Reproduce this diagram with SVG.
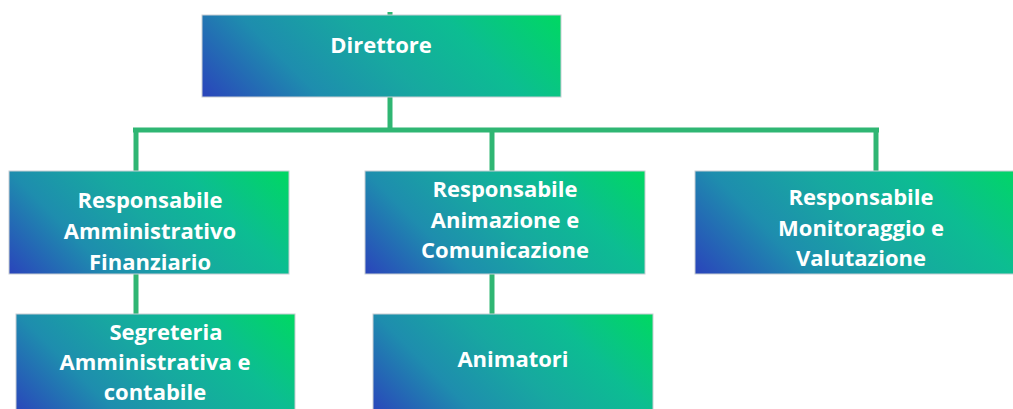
<svg xmlns="http://www.w3.org/2000/svg" width="1013" height="409" viewBox="0 0 1013 409">
  <defs>
    <!-- shared colour ramp: deep blue (bottom-left) to bright green (top-right) -->
    <linearGradient id="boxFill">
      <stop offset="0" stop-color="#2a44bb"/>
      <stop offset="0.27" stop-color="#1e8dae"/>
      <stop offset="0.5" stop-color="#17a8a0"/>
      <stop offset="0.73" stop-color="#0cbd92"/>
      <stop offset="1" stop-color="#00d862"/>
    </linearGradient>
    <!-- per-box 45° gradients -->
    <linearGradient id="fillDir" href="#boxFill" gradientUnits="userSpaceOnUse" x1="202" y1="97" x2="422.5" y2="-123.5"/>
    <linearGradient id="fillAmm" href="#boxFill" gradientUnits="userSpaceOnUse" x1="9" y1="274" x2="200.5" y2="82.5"/>
    <linearGradient id="fillAnim" href="#boxFill" gradientUnits="userSpaceOnUse" x1="365" y1="274" x2="556.5" y2="82.5"/>
    <linearGradient id="fillMon" href="#boxFill" gradientUnits="userSpaceOnUse" x1="695" y1="274" x2="912.5" y2="56.5"/>
    <linearGradient id="fillSeg" href="#boxFill" gradientUnits="userSpaceOnUse" x1="16" y1="414" x2="205.5" y2="224.5"/>
    <linearGradient id="fillAnt" href="#boxFill" gradientUnits="userSpaceOnUse" x1="373" y1="414" x2="562.5" y2="224.5"/>
    <style>
      .box { stroke: #c8ced3; stroke-width: 1; }
      .label { font-family: "Open Sans", "Liberation Sans", sans-serif; font-weight: 700; font-size: 22px; fill: #ffffff; text-anchor: middle; }
      .link { stroke: #2fb673; stroke-width: 5; fill: none; }
    </style>
  </defs>
  <rect width="1013" height="409" fill="#ffffff"/>

  <!-- connectors -->
  <g id="connectors">
    <path class="link" d="M390 12 V15"/>
    <path class="link" d="M390 97 V130"/>
    <path class="link" d="M133 130 H879"/>
    <path class="link" d="M136 130 V171"/>
    <path class="link" d="M492 130 V171"/>
    <path class="link" d="M876 130 V171"/>
    <path class="link" d="M136 274 V314"/>
    <path class="link" d="M492 274 V314"/>
  </g>

  <g id="direttore">
    <rect class="box" x="202" y="15" width="359" height="82" fill="url(#fillDir)"/>
    <text class="label" x="381" y="53">Direttore</text>
  </g>

  <g id="resp-amm-fin">
    <rect class="box" x="9" y="171" width="280" height="103" fill="url(#fillAmm)"/>
    <text class="label" x="150" y="208">Responsabile</text>
    <text class="label" x="150" y="239">Amministrativo</text>
    <text class="label" x="150" y="270">Finanziario</text>
  </g>

  <g id="resp-anim-com">
    <rect class="box" x="365" y="171" width="280" height="103" fill="url(#fillAnim)"/>
    <text class="label" x="505" y="197">Responsabile</text>
    <text class="label" x="505" y="228">Animazione e</text>
    <text class="label" x="505" y="258">Comunicazione</text>
  </g>

  <g id="resp-mon-val">
    <rect class="box" x="695" y="171" width="332" height="103" fill="url(#fillMon)"/>
    <text class="label" x="861" y="205">Responsabile</text>
    <text class="label" x="861" y="236">Monitoraggio e</text>
    <text class="label" x="861" y="266">Valutazione</text>
  </g>

  <g id="segreteria">
    <rect class="box" x="16" y="314" width="279" height="100" fill="url(#fillSeg)"/>
    <text class="label" x="166" y="340">Segreteria</text>
    <text class="label" x="155" y="370">Amministrativa e</text>
    <text class="label" x="155" y="400">contabile</text>
  </g>

  <g id="animatori">
    <rect class="box" x="373" y="314" width="280" height="100" fill="url(#fillAnt)"/>
    <text class="label" x="513" y="367">Animatori</text>
  </g>
</svg>
